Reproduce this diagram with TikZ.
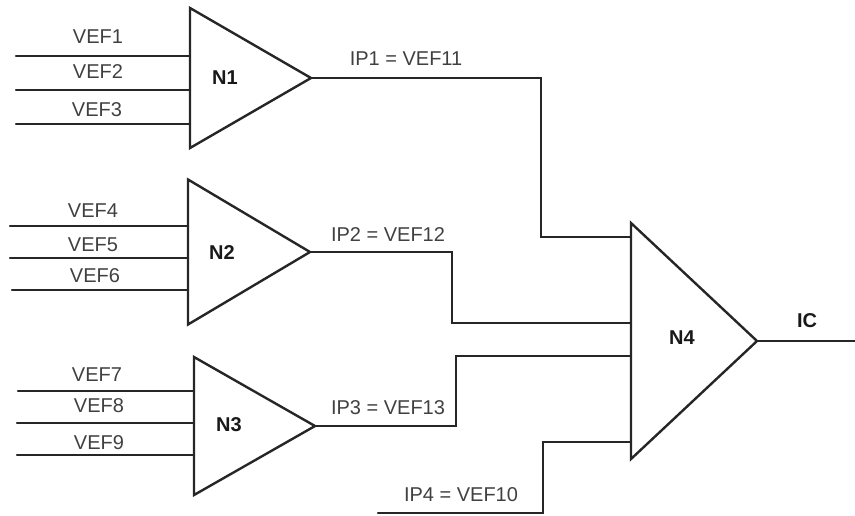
\documentclass[tikz,border=0pt]{standalone}
\usepackage{fontspec}
\setmainfont{Liberation Sans}
\usetikzlibrary{shapes.geometric}
\tikzset{
  tri/.style 2 args={isosceles triangle, isosceles triangle stretches, shape border rotate=0,
              draw=black!85, line width=1.8pt, inner sep=0pt, outer sep=0pt, anchor=lower side,
              minimum height=#1, minimum width=#2},
  wire/.style={draw=black!85, line width=1.7pt, line cap=round, line join=miter},
  lab/.style={text=black!75, font=\fontsize{15}{17}\selectfont, inner sep=0pt},
  tag/.style={text=black!90, font=\fontsize{15}{17}\selectfont\bfseries, inner sep=0pt},
}
\begin{document}
\begin{tikzpicture}[x=0.75pt, y=-0.75pt]
\useasboundingbox (0,0) rectangle (855,515);
% networks
\node[tri={90.75pt}{105pt}] (n1) at (190,78) {};
\node[tri={91.5pt}{108.75pt}] (n2) at (188,252) {};
\node[tri={90.75pt}{103.5pt}] (n3) at (194,426) {};
\node[tri={94.5pt}{177pt}] (n4) at (631,341) {};
\node[tag] (n1lab) at (225,77.5) {N1};
\node[tag] (n2lab) at (222,252.5) {N2};
\node[tag] (n3lab) at (229,424.5) {N3};
\node[tag] (n4lab) at (682,337.5) {N4};
% inputs
\foreach \name/\x/\y/\tx/\ty/\net in {1/16/56/98/36.5/n1, 2/16/90/98/71.5/n1, 3/16/124/97/109.5/n1,
    4/10/226/93/210.5/n2, 5/10/258/93/244.5/n2, 6/12/290/95/275.5/n2,
    7/18/391/97/374.5/n3, 8/17/423/99/405.5/n3, 9/17/455/99/442.5/n3} {
  \coordinate (in\name) at (\x,\y);
  \draw[wire] (in\name) -- (in\name -| \net.lower side);
  \node[lab] (vef\name) at (\tx,\ty) {VEF\name};
}
% outputs to N4
\coordinate (c1) at (541,237);
\coordinate (c2) at (452,323);
\coordinate (c3) at (456,356);
\coordinate (c4) at (543,442);
\coordinate (ip4) at (378,513);
\coordinate (ic) at (855,341);
\draw[wire] (n1.apex) -| (c1) -- (c1 -| n4.lower side);
\draw[wire] (n2.apex) -| (c2) -- (c2 -| n4.lower side);
\draw[wire] (n3.apex) -| (c3) -- (c3 -| n4.lower side);
\draw[wire] (ip4) -| (c4) -- (c4 -| n4.lower side);
\draw[wire] (n4.apex) -- (ic);
\node[lab] (ip1lab) at (406,59) {IP1 = VEF11};
\node[lab] (ip2lab) at (388,235) {IP2 = VEF12};
\node[lab] (ip3lab) at (388,408) {IP3 = VEF13};
\node[lab] (ip4lab) at (461,495) {IP4 = VEF10};
\node[tag] (iclab) at (807,320.5) {IC};
\end{tikzpicture}
\end{document}
